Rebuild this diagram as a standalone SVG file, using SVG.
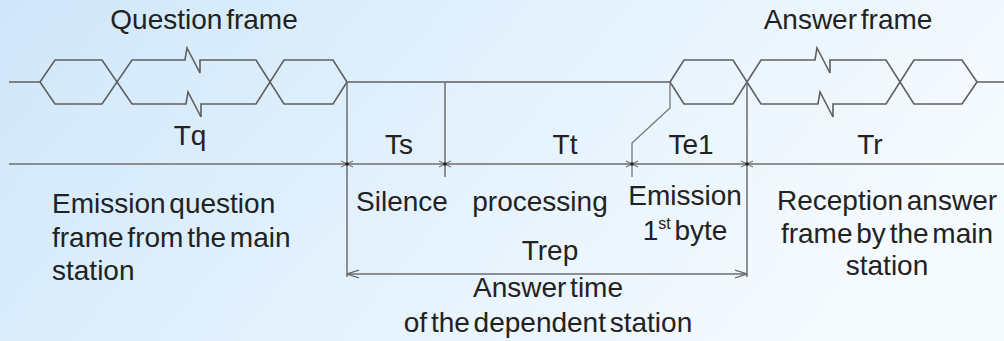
<svg xmlns="http://www.w3.org/2000/svg" width="1004" height="341" viewBox="0 0 1004 341">
  <defs>
    <linearGradient id="bg" x1="0" y1="0" x2="1" y2="0.3">
      <stop offset="0" stop-color="#cfe7fa"/>
      <stop offset="0.55" stop-color="#e4f2fd"/>
      <stop offset="1" stop-color="#f5fafe"/>
    </linearGradient>
    <marker id="arr" viewBox="0 0 12 10" refX="12" refY="5" markerWidth="12" markerHeight="10" markerUnits="userSpaceOnUse" orient="auto-start-reverse">
      <path d="M0,1 L12,5 L0,9" fill="none" stroke="#666" stroke-width="1.3"/>
    </marker>
    <g id="tick">
      <path d="M-6,-3 L6,3 M-6,3 L6,-3" stroke="#777" stroke-width="1.2" fill="none"/>
      <circle r="1.8" fill="#222"/>
    </g>
  </defs>
  <style>
    .wave { fill: none; stroke: #5f5f5f; stroke-width: 1.6; stroke-linejoin: miter; }
    .dim { fill: none; stroke: #6e6e6e; stroke-width: 1.5; }
    .lead { fill: none; stroke: #777; stroke-width: 1.3; }
    text { font-family: "Liberation Sans", Arial, sans-serif; font-size: 28px; fill: #222; word-spacing: -4px; }
    .c { text-anchor: middle; }
  </style>
  <rect width="1004" height="341" fill="url(#bg)"/>

  <g id="question-frame">
    <text class="c" x="204" y="29">Question frame</text>
    <path class="wave" d="M9,82 H40 L55,60 H102 L132,104 H186 L188,92 L201,117 L201,104 H256 L284,60 H333 L347,82"/>
    <path class="wave" d="M40,82 L55,104 H102 L132,60 H185 L187,48 L200,73 L200,60 H256 L284,104 H333 L347,82"/>
  </g>

  <g id="idle-line">
    <path class="wave" d="M347,82 H670"/>
  </g>

  <g id="answer-frame">
    <text class="c" x="848" y="29">Answer frame</text>
    <path class="wave" d="M670,82 L684,60 H733 L761,104 H818 L820,92 L833,117 L833,104 H886 L914,60 H962 L977,82 H1004"/>
    <path class="wave" d="M670,82 L684,104 H733 L761,60 H815 L817,48 L830,73 L830,60 H886 L914,104 H962 L977,82"/>
  </g>

  <g id="connectors">
    <path class="dim" d="M9,164 H1004"/>
    <path class="dim" d="M347,82 V277"/>
    <path class="dim" d="M747,82 V277"/>
    <path class="dim" d="M445,82 V177"/>
    <path class="lead" d="M632,177 V143 L670,108 V82"/>
    <path class="dim" d="M347,274 H747" marker-start="url(#arr)" marker-end="url(#arr)"/>
    <use href="#tick" x="347" y="164"/>
    <use href="#tick" x="445" y="164"/>
    <use href="#tick" x="632" y="164"/>
    <use href="#tick" x="747" y="164"/>
  </g>

  <g id="tq"><text class="c" x="190" y="145">Tq</text></g>
  <g id="ts"><text class="c" x="399" y="154">Ts</text></g>
  <g id="tt"><text class="c" x="565" y="154">Tt</text></g>
  <g id="te1"><text class="c" x="691" y="154">Te1</text></g>
  <g id="tr"><text class="c" x="870" y="154">Tr</text></g>

  <g id="emission-question">
    <text x="52" y="213">Emission question</text>
    <text x="52" y="247">frame from the main</text>
    <text x="52" y="280">station</text>
  </g>
  <g id="silence"><text class="c" x="402" y="211">Silence</text></g>
  <g id="processing"><text class="c" x="540" y="211">processing</text></g>
  <g id="emission-byte">
    <text class="c" x="685" y="205">Emission</text>
    <text class="c" x="685" y="240">1<tspan font-size="16" dy="-11">st</tspan><tspan dy="11"> byte</tspan></text>
  </g>
  <g id="reception">
    <text class="c" x="887" y="210">Reception answer</text>
    <text class="c" x="887" y="243">frame by the main</text>
    <text class="c" x="887" y="275">station</text>
  </g>
  <g id="trep">
    <text class="c" x="550" y="260">Trep</text>
    <text class="c" x="548" y="297">Answer time</text>
    <text class="c" x="548" y="332">of the dependent station</text>
  </g>
</svg>
